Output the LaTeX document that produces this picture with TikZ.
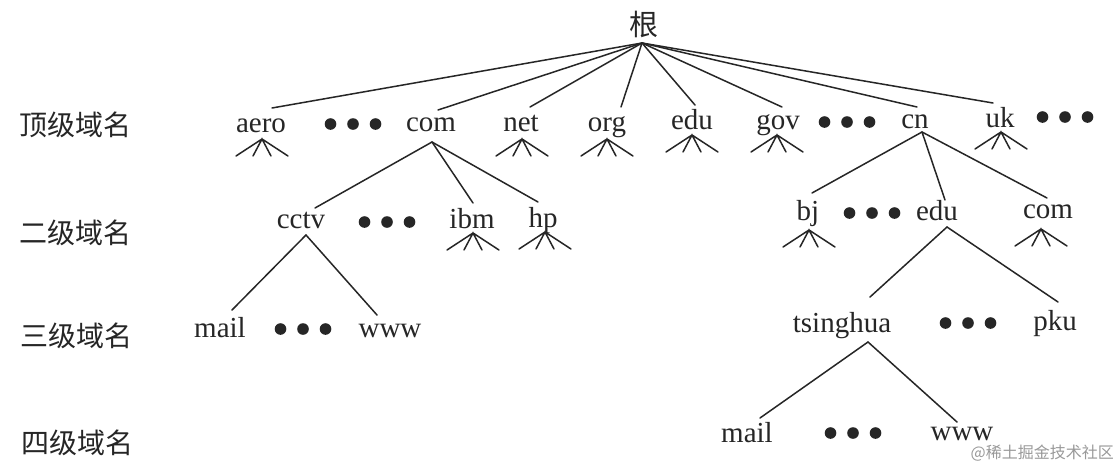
\documentclass[tikz,border=0pt]{standalone}
\usepackage{fontspec}
\setmainfont{Liberation Serif}
\newfontfamily\cjk{Noto Sans CJK SC}
\begin{document}
\begin{tikzpicture}[x=1pt,y=-1pt,
  lbl/.style={font=\fontsize{29}{29}\selectfont, inner sep=0pt, anchor=base, text=black!85},
  lvl/.style={font=\cjk\fontsize{28}{28}\selectfont, inner sep=0pt, text=black!85},
  ln/.style={line width=1.5pt, line cap=round, black!85},
  fan/.pic={\draw[ln] (-26,17) -- (0,0) -- (26,17) (-9,17) -- (0,0) -- (9,17);},
  threedots/.pic={\fill[black!85] (-22.5,0) circle (5.8) (0,0) circle (5.8) (22.5,0) circle (5.8);},
]
\useasboundingbox[fill=white] (0,0) rectangle (1118,464);

% level labels
\node[lvl] (l1) at (75,125) {顶级域名};
\node[lvl] (l2) at (75,233) {二级域名};
\node[lvl] (l3) at (76,336) {三级域名};
\node[lvl] (l4) at (77,443) {四级域名};

% root
\node[lvl,font=\cjk\fontsize{29}{29}\selectfont] (root) at (644,24) {根};
\coordinate (r) at ([shift={(-2,19)}]root.center);

% top level
\node[lbl] (aero) at (261,132) {aero};
\node[lbl] (com)  at (431,131) {com};
\node[lbl] (net)  at (521,131) {net};
\node[lbl] (org)  at (607,131) {org};
\node[lbl] (edu)  at (692,129) {edu};
\node[lbl] (gov)  at (778,129) {gov};
\node[lbl] (cn)   at (915,128) {cn};
\node[lbl] (uk)   at (1000,127) {uk};
\pic at (353,124) {threedots};
\pic at (847,122) {threedots};
\pic at (1065,117) {threedots};

\draw[ln] (r) -- ([shift={(11,-24)}]aero.base);
\draw[ln] (r) -- ([shift={(7,-21)}]com.base);
\draw[ln] (r) -- ([shift={(9,-24)}]net.base);
\draw[ln] (r) -- ([shift={(14,-24)}]org.base);
\draw[ln] (r) -- ([shift={(3,-24)}]edu.base);
\draw[ln] (r) -- ([shift={(4,-22)}]gov.base);
\draw[ln] (r) -- ([shift={(2,-21)}]cn.base);
\draw[ln] (r) -- ([shift={(-7,-24)}]uk.base);

\pic at ([shift={(1,7)}]aero.base) {fan};
\pic at ([shift={(1,8)}]net.base) {fan};
\pic at ([shift={(0,8)}]org.base) {fan};
\pic at ([shift={(0,6)}]edu.base) {fan};
\pic at ([shift={(-1,6)}]gov.base) {fan};
\pic at ([shift={(1,5)}]uk.base) {fan};

% second level (com)
\node[lbl] (cctv) at (301,228) {cctv};
\node[lbl] (ibm)  at (472,228) {ibm};
\node[lbl] (hp)   at (543,227) {hp};
\pic at (387,222) {threedots};
\draw[ln] ([shift={(1,11)}]com.base) -- ([shift={(14,-20)}]cctv.base);
\draw[ln] ([shift={(1,11)}]com.base) -- ([shift={(1,-25)}]ibm.base);
\draw[ln] ([shift={(1,11)}]com.base) -- ([shift={(-5,-25)}]hp.base);
\pic at ([shift={(1,5)}]ibm.base) {fan};
\pic at ([shift={(2,5)}]hp.base) {fan};

% second level (cn)
\node[lbl] (bj)   at (808,220) {bj};
\node[lbl] (edu2) at (937,220) {edu};
\node[lbl] (com2) at (1048,218) {com};
\pic at (872,213) {threedots};
\draw[ln] ([shift={(7,4)}]cn.base) -- ([shift={(4,-27)}]bj.base);
\draw[ln] ([shift={(7,4)}]cn.base) -- ([shift={(8,-20)}]edu2.base);
\draw[ln] ([shift={(7,4)}]cn.base) -- ([shift={(-1,-20)}]com2.base);
\pic at ([shift={(1,10)}]bj.base) {fan};
\pic at ([shift={(-7,11)}]com2.base) {fan};

% third level
\node[lbl] (mail) at (220,337) {mail};
\node[lbl] (www)  at (390,337) {www};
\pic at (303,329) {threedots};
\draw[ln] ([shift={(5,7)}]cctv.base) -- ([shift={(12,-27)}]mail.base);
\draw[ln] ([shift={(5,7)}]cctv.base) -- ([shift={(-13,-22)}]www.base);

\node[lbl] (tsinghua) at (842,332) {tsinghua};
\node[lbl] (pku)      at (1055,330) {pku};
\pic at (968,323) {threedots};
\draw[ln] ([shift={(10,7)}]edu2.base) -- ([shift={(28,-35)}]tsinghua.base);
\draw[ln] ([shift={(10,7)}]edu2.base) -- ([shift={(3,-28)}]pku.base);

% fourth level
\node[lbl] (mail2) at (747,442) {mail};
\node[lbl] (www2)  at (962,440) {www};
\pic at (853,433) {threedots};
\draw[ln] ([shift={(26,10)}]tsinghua.base) -- ([shift={(13,-24)}]mail2.base);
\draw[ln] ([shift={(26,10)}]tsinghua.base) -- ([shift={(-5,-18)}]www2.base);

% watermark
\node[font=\cjk\fontsize{16}{16}\selectfont, text=black!40, inner sep=0pt, anchor=east] (wm) at (1114,453) {@稀土掘金技术社区};
\end{tikzpicture}
\end{document}
